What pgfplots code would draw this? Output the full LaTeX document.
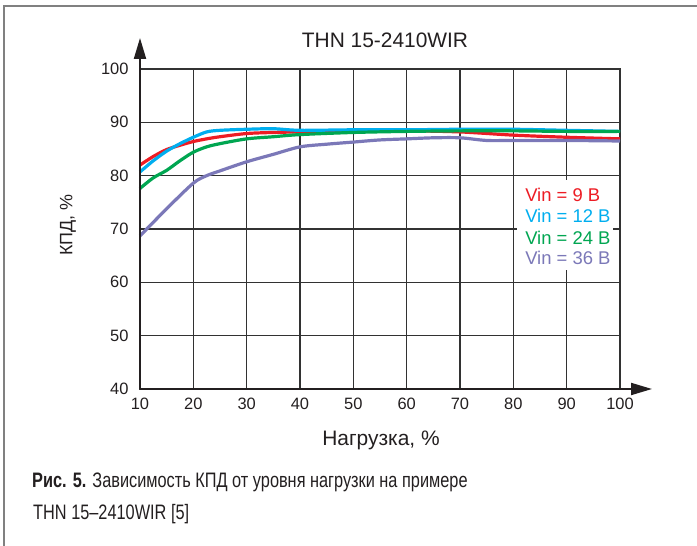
\documentclass[border=0pt]{standalone}
\usepackage{pgfplots}
\pgfplotsset{compat=1.18}
\usepackage{fontspec}
\setmainfont{Liberation Sans}
\newfontfamily\capfont[FakeStretch=0.78]{Liberation Sans}
\usetikzlibrary{arrows.meta}
\definecolor{cred}{RGB}{237,28,36}
\definecolor{cblue}{RGB}{0,174,239}
\definecolor{cgreen}{RGB}{0,166,81}
\definecolor{cpurple}{RGB}{123,120,184}
\definecolor{cgrid}{RGB}{50,50,50}
\definecolor{ctext}{RGB}{35,31,32}
\begin{document}
\begin{tikzpicture}[x=1bp,y=1bp]
\useasboundingbox (-140,-157) rectangle (557,389);
\draw[gray, line width=1.5bp] (-136,-157) -- (-136,383) -- (557,383);
\begin{axis}[
  at={(0,0)}, anchor=south west,
  scale only axis, width=480bp, height=320bp,
  xmin=10, xmax=100, ymin=40, ymax=100,
  xtick={10,20,...,100}, ytick={40,50,...,100},
  grid=major,
  grid style={line width=1.4bp, color=cgrid},
  axis line style={line width=1.4bp, color=cgrid},
  major tick length=0pt,
  /pgf/number format/assume math mode=true,
  ticklabel style={font=\fontsize{16.5}{19}\selectfont, text=ctext},
  yticklabel style={xshift=-8bp},
  xticklabel style={yshift=-6bp},
  clip=false,
]
\addplot[cred, line width=3.2bp, smooth] coordinates {
(10,82.0) (12.5,83.6) (15,84.9) (17.5,85.7) (20,86.4) (22.5,86.9) (25,87.3) (30,87.9) (35,88.1) (40,88.2) (50,88.3) (60,88.4) (70,88.2) (80,87.6) (90,87.2) (100,86.9)};
\addplot[cpurple, line width=3.2bp, smooth] coordinates {
(10,68.7) (15,73.8) (20,78.6) (22.5,80.0) (25,80.9) (30,82.6) (35,84.0) (40,85.4) (45,85.9) (50,86.3) (55,86.7) (60,86.9) (65,87.1) (70,87.1) (75,86.6) (80,86.6) (90,86.6) (100,86.5)};
\addplot[cblue, line width=3.2bp, smooth] coordinates {
(10,80.7) (12.5,82.8) (15,84.6) (17.5,86.0) (20,87.2) (22.5,88.2) (25,88.5) (30,88.7) (35,88.8) (40,88.5) (50,88.6) (60,88.6) (70,88.7) (80,88.7) (90,88.5) (100,88.3)};
\addplot[cgreen, line width=3.2bp, smooth] coordinates {
(10,77.6) (12.5,79.6) (15,81.0) (17.5,82.8) (20,84.4) (22.5,85.4) (25,86.0) (30,86.9) (35,87.3) (40,87.7) (50,88.1) (60,88.3) (70,88.4) (80,88.4) (90,88.3) (100,88.3)};
\fill[white] (axis cs:80.7,79.2) rectangle (axis cs:98.7,62.3);
\begin{scope}[every node/.style={anchor=west, inner sep=0pt, font=\fontsize{18.5}{21}\selectfont}]
\node[text=cred] at (axis cs:82.2,76.4) {Vin = 9 В};
\node[text=cblue] at (axis cs:82.2,72.4) {Vin = 12 В};
\node[text=cgreen] at (axis cs:82.2,68.4) {Vin = 24 В};
\node[text=cpurple] at (axis cs:82.2,64.5) {Vin = 36 В};
\end{scope}
\end{axis}
\draw[ctext, line width=2bp, -{Triangle[length=21bp,width=12bp]}] (0,0) -- (0,351);
\draw[ctext, line width=2bp, -{Triangle[length=21bp,width=12bp]}] (0,0) -- (512,0);
\node[font=\fontsize{21}{25}\selectfont, text=ctext] at (245,348.5) {THN 15-2410WIR};
\node[font=\fontsize{21}{25}\selectfont, text=ctext, anchor=base] at (241,-57) {Нагрузка, \%};
\node[font=\fontsize{18}{21}\selectfont, text=ctext, rotate=90] at (-72,164) {КПД, \%};
\node[anchor=base west, inner sep=0pt, text=ctext, font=\capfont\fontsize{21}{25}\selectfont] at (-108,-99) {\textbf{Рис. 5.} Зависимость КПД от уровня нагрузки на примере};
\node[anchor=base west, inner sep=0pt, text=ctext, font=\capfont\fontsize{21}{25}\selectfont] at (-107,-131) {THN 15–2410WIR [5]};
\end{tikzpicture}
\end{document}
